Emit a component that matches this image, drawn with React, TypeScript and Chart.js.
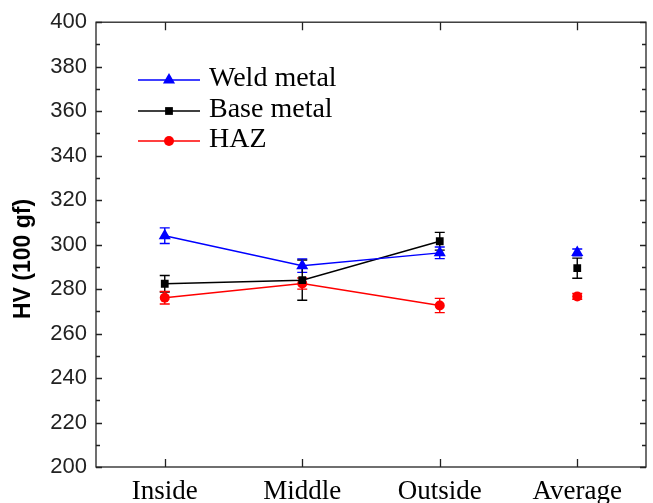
import React, { useEffect, useRef } from "react";
import { Chart, registerables } from "chart.js";
Chart.register(...registerables);

const categories = ["Inside", "Middle", "Outside", "Average"];
const weldMetal = [304.0, 290.5, 296.3, 296.5];
const weldMetalErr = [3.5, 3.0, 2.6, 1.5];
const baseMetal = [282.4, 284.0, 301.5, 289.4];
const baseMetalErr = [3.7, 9.0, 4.0, 4.5];
const haz = [276.1, 282.5, 272.6, 276.7];
const hazErr = [2.8, 2.5, 3.2, 1.3];
const yMin = 200;
const yMax = 400;
const yStep = 20;
const yMinorStep = 10;
const yTitle = "HV (100 gf)";
const seriesNames = ["Weld metal", "Base metal", "HAZ"];
const seriesColors = ["#0000ff", "#000000", "#ff0000"];
const seriesShapes = ["triangle", "rect", "circle"];
const seriesRadius = [7, 5.5, 5];

const AVG_INDEX = 3;

function drawMarker(ctx: CanvasRenderingContext2D, shape: string, x: number, y: number, r: number, color: string) {
  ctx.save();
  ctx.fillStyle = color;
  ctx.beginPath();
  if (shape === "triangle") {
    for (let k = 0; k < 3; k++) {
      const a = (k * 2 * Math.PI) / 3;
      const px = x + Math.sin(a) * r;
      const py = y - Math.cos(a) * r;
      if (k === 0) ctx.moveTo(px, py);
      else ctx.lineTo(px, py);
    }
    ctx.closePath();
  } else if (shape === "rect") {
    const s = Math.SQRT1_2 * r;
    ctx.rect(x - s, y - s, 2 * s, 2 * s);
  } else {
    ctx.arc(x, y, r, 0, Math.PI * 2);
  }
  ctx.fill();
  ctx.restore();
}

const framePlugin = {
  id: "frame",
  beforeDatasetsDraw(chart: any) {
    const { ctx, scales } = chart;
    const y = scales.y;
    chart.data.datasets.forEach((ds: any, di: number) => {
      const meta = chart.getDatasetMeta(di);
      ds.data.forEach((v: number | null, i: number) => {
        if (v == null || !ds.errors) return;
        const e = ds.errors[i];
        const px = meta.data[i].x;
        const yt = y.getPixelForValue(v + e);
        const yb = y.getPixelForValue(v - e);
        ctx.save();
        ctx.strokeStyle = ds.borderColor;
        ctx.lineWidth = 1.4;
        ctx.beginPath();
        ctx.moveTo(px, yt);
        ctx.lineTo(px, yb);
        ctx.moveTo(px - 5, yt);
        ctx.lineTo(px + 5, yt);
        ctx.moveTo(px - 5, yb);
        ctx.lineTo(px + 5, yb);
        ctx.stroke();
        ctx.restore();
      });
    });
  },
  afterDraw(chart: any) {
    const { ctx, chartArea, scales } = chart;
    const { left, right, top, bottom } = chartArea;
    const x = scales.x;
    const y = scales.y;
    ctx.save();
    ctx.strokeStyle = "#222";
    ctx.lineWidth = 1.3;
    ctx.strokeRect(left, top, right - left, bottom - top);
    ctx.beginPath();
    for (let v = yMin; v <= yMax; v += yMinorStep) {
      const py = Math.round(y.getPixelForValue(v)) + 0.5;
      const len = v % yStep === 0 ? 6 : 4;
      ctx.moveTo(left, py);
      ctx.lineTo(left + len, py);
      ctx.moveTo(right, py);
      ctx.lineTo(right - len, py);
    }
    categories.forEach((_, i) => {
      const px = Math.round(x.getPixelForValue(i)) + 0.5;
      ctx.moveTo(px, bottom);
      ctx.lineTo(px, bottom - 8);
      ctx.moveTo(px, top);
      ctx.lineTo(px, top + 8);
    });
    ctx.stroke();
    ctx.restore();

    ctx.save();
    ctx.translate(23.5, 259);
    ctx.rotate(-Math.PI / 2);
    ctx.font = "bold 23px 'Liberation Sans', Arial, sans-serif";
    ctx.fillStyle = "#000";
    ctx.textAlign = "center";
    ctx.textBaseline = "middle";
    ctx.fillText(yTitle, 0, 0);
    ctx.restore();

    const rows = [80, 111, 141];
    ctx.save();
    seriesNames.forEach((name, i) => {
      const ly = rows[i];
      ctx.strokeStyle = seriesColors[i];
      ctx.lineWidth = 1.3;
      ctx.beginPath();
      ctx.moveTo(138, ly);
      ctx.lineTo(200, ly);
      ctx.stroke();
      drawMarker(ctx, seriesShapes[i], 169, ly, seriesRadius[i], seriesColors[i]);
      ctx.font = "28px 'Liberation Serif', 'Times New Roman', serif";
      ctx.fillStyle = "#000";
      ctx.textAlign = "left";
      ctx.textBaseline = "middle";
      ctx.fillText(name, 209, ly - 1);
    });
    ctx.restore();
  },
};

function makeDatasets() {
  const groups = [weldMetal, baseMetal, haz];
  const errs = [weldMetalErr, baseMetalErr, hazErr];
  const out: any[] = [];
  groups.forEach((vals, gi) => {
    const common = {
      borderColor: seriesColors[gi],
      backgroundColor: seriesColors[gi],
      pointStyle: seriesShapes[gi],
      pointRadius: seriesRadius[gi],
      pointHoverRadius: seriesRadius[gi],
      pointBorderWidth: 0,
      borderWidth: 1.4,
    };
    out.push({
      ...common,
      label: seriesNames[gi],
      data: vals.map((v, i) => (i === AVG_INDEX ? null : v)),
      errors: errs[gi],
      spanGaps: false,
    });
    out.push({
      ...common,
      label: seriesNames[gi] + " average",
      data: vals.map((v, i) => (i === AVG_INDEX ? v : null)),
      errors: errs[gi],
      showLine: false,
    });
  });
  return out;
}

export default function App() {
  const ref = useRef<HTMLCanvasElement>(null);
  useEffect(() => {
    if (!ref.current) return;
    const chart = new Chart(ref.current, {
      type: "line",
      data: { labels: categories, datasets: makeDatasets() },
      options: {
        responsive: false,
        animation: false,
        devicePixelRatio: 1,
        layout: { padding: { top: 21, right: 6, left: 0, bottom: 0 } },
        plugins: { legend: { display: false }, tooltip: { enabled: false } },
        scales: {
          x: {
            type: "category",
            offset: true,
            grid: { display: false, drawTicks: false },
            border: { display: false },
            ticks: {
              color: "#000",
              padding: 9,
              font: { family: "'Liberation Serif', 'Times New Roman', serif", size: 27 },
            },
            afterFit(scale: any) {
              scale.height = 36;
            },
          },
          y: {
            min: yMin,
            max: yMax,
            grid: { display: false, drawTicks: false },
            border: { display: false },
            ticks: {
              stepSize: yStep,
              color: "#222",
              padding: 9,
              font: { family: "'Liberation Sans', Arial, sans-serif", size: 22 },
            },
            afterFit(scale: any) {
              scale.width = 96;
            },
          },
        },
      } as any,
      plugins: [framePlugin],
    });
    return () => chart.destroy();
  }, []);
  return (
    <div style={{ position: "fixed", left: 0, top: 0, width: 653, height: 503, background: "#fff" }}>
      <canvas ref={ref} width={653} height={503} />
    </div>
  );
}
